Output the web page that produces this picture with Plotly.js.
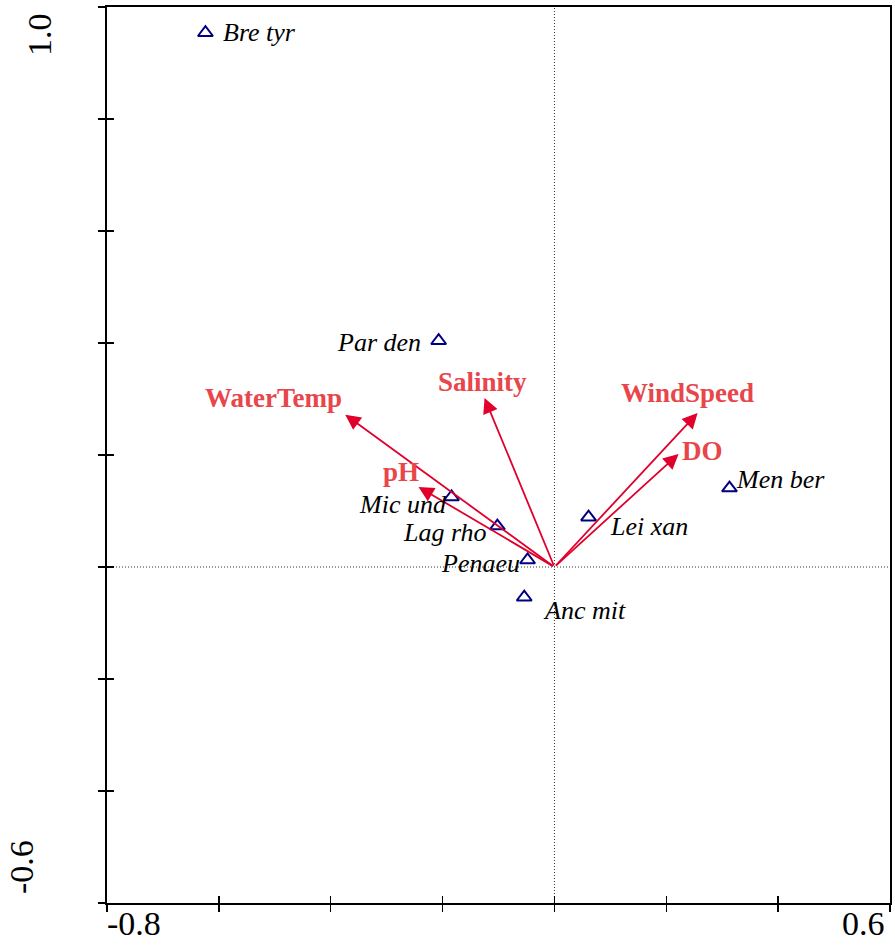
<!DOCTYPE html>
<html>
<head>
<meta charset="utf-8">
<script src="https://cdn.plot.ly/plotly-3.0.1.min.js"></script>
<style>html,body{margin:0;padding:0;background:#fff}#chart{width:895px;height:951px}</style>
</head>
<body>
<div id="chart"></div>
<script>
// Species scores
var speciesNames = ["Bre tyr", "Par den", "Mic und", "Lag rho", "Penaeu", "Anc mit", "Lei xan", "Men ber"];
var speciesX = [-0.624, -0.207, -0.184, -0.102, -0.048, -0.054, 0.061, 0.313];
var speciesY = [0.954, 0.404, 0.125, 0.073, 0.0125, -0.054, 0.089, 0.141];

// Environmental variable arrows
var envNames = ["WaterTemp", "Salinity", "pH", "WindSpeed", "DO"];
var envX = [-0.374, -0.125, -0.243, 0.256, 0.222];
var envY = [0.272, 0.302, 0.143, 0.275, 0.202];

// Axis ticks
var xTickVals = [-0.8, -0.6, -0.4, -0.2, 0.0, 0.2, 0.4, 0.6];
var yTickVals = [-0.6, -0.4, -0.2, 0.0, 0.2, 0.4, 0.6, 0.8, 1.0];
var xEndLabels = ["-0.8", "0.6"];
var yEndLabels = ["-0.6", "1.0"];

// label placement (pixels): [xshift, yshift, xanchor]
var speciesLabelPos = [[16, 0, "left"], [-16, -2, "right"], [-3, -7, "right"], [-8, -6, "right"],
                       [-6, -3, "right"], [17, -13, "left"], [19, -9, "left"], [5, 9, "left"]];
var envLabelPos = [[-72, 17], [-2, 16], [-18, 15], [-10, 20], [24, 3]];

var serif = "Liberation Serif, Times New Roman, serif";
var arrowColor = "#e0002b";
var envLabelColor = "#e8464a";

var traces = [{
  type: "scatter", mode: "markers",
  x: speciesX, y: speciesY,
  marker: {symbol: "triangle-up-open", size: 13, color: "#000080", line: {width: 2, color: "#000080"}},
  hoverinfo: "skip", showlegend: false
}, {
  type: "scatter", mode: "markers", x: [], y: [], xaxis: "x2", yaxis: "y2", showlegend: false
}];

var annotations = [];
// arrows
for (var i = 0; i < envNames.length; i++) {
  annotations.push({
    x: envX[i], y: envY[i], ax: 0, ay: 0, axref: "x", ayref: "y", xref: "x", yref: "y",
    text: "", showarrow: true, arrowhead: 2, arrowsize: 1.7, arrowwidth: 1.8,
    arrowcolor: arrowColor, standoff: 0, startstandoff: 0
  });
  annotations.push({
    x: envX[i], y: envY[i], xref: "x", yref: "y", text: "<b>" + envNames[i] + "</b>",
    showarrow: false, xshift: envLabelPos[i][0], yshift: envLabelPos[i][1],
    xanchor: "center", yanchor: "middle",
    font: {family: serif, size: 27, color: envLabelColor}
  });
}
// species labels
for (var j = 0; j < speciesNames.length; j++) {
  annotations.push({
    x: speciesX[j], y: speciesY[j], xref: "x", yref: "y", text: "<i>" + speciesNames[j] + "</i>",
    showarrow: false, xshift: speciesLabelPos[j][0], yshift: speciesLabelPos[j][1],
    xanchor: speciesLabelPos[j][2], yanchor: "middle",
    font: {family: serif, size: 26, color: "#000"}
  });
}
// axis end labels
annotations.push({x: xTickVals[0], y: 0, xref: "x", yref: "paper", text: xEndLabels[0], showarrow: false,
  xanchor: "left", yanchor: "middle", yshift: -20, xshift: -2, font: {family: serif, size: 34, color: "#000"}});
annotations.push({x: xTickVals[xTickVals.length - 1], y: 0, xref: "x", yref: "paper", text: xEndLabels[1], showarrow: false,
  xanchor: "right", yanchor: "middle", yshift: -20, xshift: -3, font: {family: serif, size: 34, color: "#000"}});
annotations.push({x: 0, y: yTickVals[yTickVals.length - 1], xref: "paper", yref: "y", text: yEndLabels[1], showarrow: false,
  textangle: -90, xanchor: "center", yanchor: "middle", xshift: -68, yshift: -28, font: {family: serif, size: 34, color: "#000"}});
annotations.push({x: 0, y: yTickVals[0], xref: "paper", yref: "y", text: yEndLabels[0], showarrow: false,
  textangle: -90, xanchor: "center", yanchor: "middle", xshift: -86, yshift: 36, font: {family: serif, size: 34, color: "#000"}});

var axBase = {
  showgrid: false, zeroline: false, showticklabels: false,
  ticks: "outside", ticklen: 7, tickwidth: 1.5, tickcolor: "#000",
  showline: true, linecolor: "#000", linewidth: 2, mirror: true, fixedrange: true
};

var layout = {
  width: 895, height: 951,
  margin: {l: 107, r: 5, t: 7, b: 48, pad: 0},
  paper_bgcolor: "#fff", plot_bgcolor: "#fff",
  showlegend: false,
  xaxis: Object.assign({}, axBase, {range: [-0.8, 0.6], tickvals: xTickVals}),
  yaxis: Object.assign({}, axBase, {range: [-0.6, 1.0], tickvals: yTickVals}),
  xaxis2: Object.assign({}, axBase, {range: [-0.8, 0.6], tickvals: xTickVals, ticks: "inside", overlaying: "x", side: "bottom", anchor: "y2", showline: false, mirror: false}),
  yaxis2: Object.assign({}, axBase, {range: [-0.6, 1.0], tickvals: yTickVals, ticks: "inside", overlaying: "y", side: "left", anchor: "x2", showline: false, mirror: false}),
  shapes: [
    {type: "line", xref: "x", yref: "paper", x0: 0, x1: 0, y0: 0, y1: 1, line: {color: "#333", width: 1, dash: "1px,2px"}, layer: "below"},
    {type: "line", xref: "paper", yref: "y", x0: 0, x1: 1, y0: 0, y1: 0, line: {color: "#333", width: 1, dash: "1px,2px"}, layer: "below"}
  ],
  annotations: annotations
};

Plotly.newPlot("chart", traces, layout, {staticPlot: true, displayModeBar: false});
</script>
</body>
</html>
